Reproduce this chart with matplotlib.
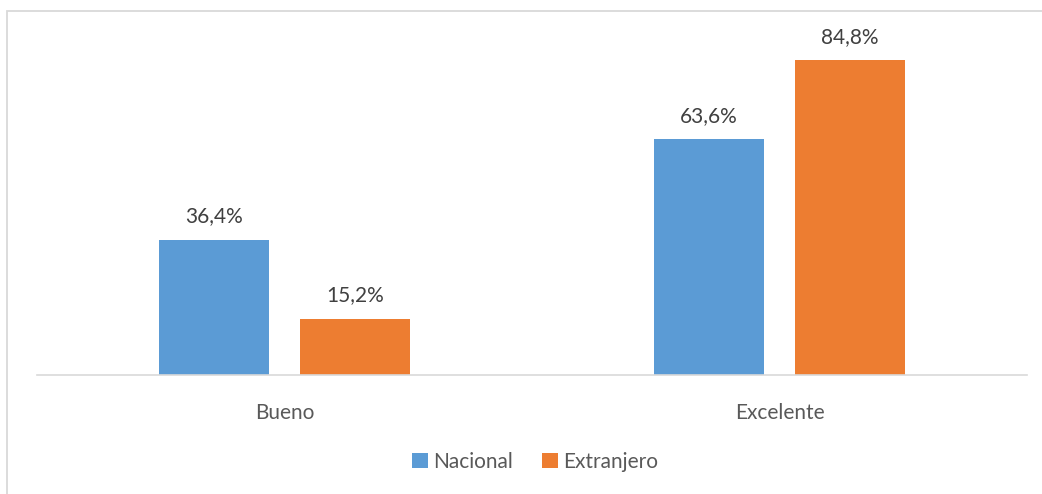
import matplotlib.pyplot as plt
from matplotlib.patches import Rectangle
import numpy as np

categorias = ['Bueno', 'Excelente']
nacional = [36.4, 63.6]
extranjero = [15.2, 84.8]
series = ['Nacional', 'Extranjero']

plt.rcParams['font.family'] = ['Lato', 'DejaVu Sans']

fig = plt.figure(figsize=(10.42, 4.94), dpi=100)
ax = fig.add_axes([37/1042, 1 - 375/494, 990/1042, (375 - 41)/494])

x = np.arange(len(categorias))
w = 0.224
b1 = ax.bar(x - 0.1425, nacional, w, color='#5B9BD5', label=series[0])
b2 = ax.bar(x + 0.1425, extranjero, w, color='#ED7D31', label=series[1])

for bars, vals in ((b1, nacional), (b2, extranjero)):
    for r, v in zip(bars, vals):
        ax.text(r.get_x() + r.get_width()/2, v + 3.6, f'{v:.1f}%'.replace('.', ','),
                ha='center', va='bottom', fontsize=15, color='#404040')

ax.set_xlim(-0.5, 1.5)
ax.set_ylim(0, 90)
ax.set_yticks([])
ax.set_xticks(x)
ax.set_xticklabels(categorias, fontsize=15, color='#595959')
ax.tick_params(axis='x', length=0, pad=20)
for s in ['top', 'right', 'left']:
    ax.spines[s].set_visible(False)
ax.spines['bottom'].set_color('#D9D9D9')
ax.spines['bottom'].set_linewidth(1.2)

leg = fig.legend(handles=[b1, b2], labels=series, loc='center', bbox_to_anchor=(535/1042, 1 - 462/494),
                 ncol=2, frameon=False, fontsize=15, handlelength=0.75, handleheight=0.75,
                 handletextpad=0.25, columnspacing=1.4)
for t in leg.get_texts():
    t.set_color('#595959')

# borde del grafico (recortado a la derecha y abajo)
fig.patches.append(Rectangle((7/1042, -0.1), 1.2, 1 - 11/494 + 0.1, transform=fig.transFigure,
                             fill=False, edgecolor='#D9D9D9', linewidth=1.3))

fig.savefig('out.png', dpi=100)
